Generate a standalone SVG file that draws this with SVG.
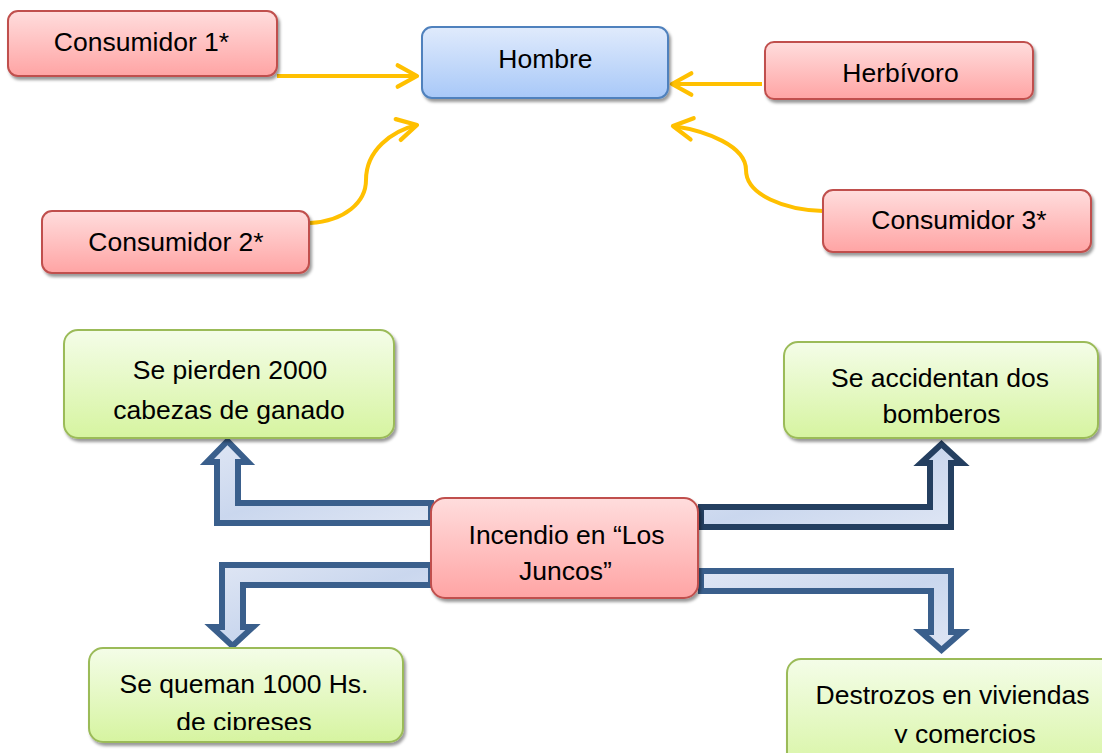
<svg xmlns="http://www.w3.org/2000/svg" width="1102" height="753" viewBox="0 0 1102 753">
<defs>
<linearGradient id="gRed" x1="0" y1="0" x2="0" y2="1"><stop offset="0" stop-color="#ffdddd"/><stop offset="1" stop-color="#ffa4a4"/></linearGradient>
<linearGradient id="gBlue" x1="0" y1="0" x2="0" y2="1"><stop offset="0" stop-color="#e0ebfc"/><stop offset="1" stop-color="#a8c8f8"/></linearGradient>
<linearGradient id="gGreen" x1="0" y1="0" x2="0" y2="1"><stop offset="0" stop-color="#f4fde8"/><stop offset="1" stop-color="#d6f4a0"/></linearGradient>
<linearGradient id="gArrow" x1="0" y1="0" x2="1" y2="1"><stop offset="0" stop-color="#dfe6f4"/><stop offset="0.5" stop-color="#cad7ee"/><stop offset="1" stop-color="#dfe6f4"/></linearGradient>
<filter id="sh" x="-10%" y="-20%" width="130%" height="150%"><feDropShadow dx="2" dy="3" stdDeviation="1.5" flood-color="#000" flood-opacity="0.4"/></filter>
<marker id="chev" markerUnits="userSpaceOnUse" markerWidth="30" markerHeight="30" refX="0" refY="0" viewBox="-22 -14 26 28" orient="auto" overflow="visible">
<path d="M-18,-10 L0,0 L-18,10" fill="none" stroke="#ffc000" stroke-width="4" stroke-linecap="round" stroke-linejoin="round"/>
</marker>
<clipPath id="clipA"><rect x="0" y="0" width="1102" height="730"/></clipPath>
<clipPath id="clipB"><rect x="0" y="0" width="1102" height="743"/></clipPath>
</defs>
<style>
text{font-family:"Liberation Sans",Arial,sans-serif;font-size:26.5px;fill:#000;text-anchor:middle}
.red{fill:url(#gRed);stroke:#c0504d;stroke-width:2;filter:url(#sh)}
.blue{fill:url(#gBlue);stroke:#4f81bd;stroke-width:2;filter:url(#sh)}
.green{fill:url(#gGreen);stroke:#9bbb59;stroke-width:2;filter:url(#sh)}
.conn{fill:none;stroke:#ffc000;stroke-width:4;marker-end:url(#chev)}
.blk{fill:url(#gArrow);stroke:#3a5f8c;stroke-width:6;stroke-linejoin:miter}
.blkd{fill:url(#gArrow);stroke:#243f60;stroke-width:6;stroke-linejoin:miter}
</style>
<rect width="1102" height="753" fill="#fff"/>

<g id="connectors">
<path class="conn" d="M277,76 L417,76"/>
<path class="conn" d="M310,223 C345,221 366,202 366,180 C366,150 392,131 417,125"/>
<path class="conn" d="M762,84 L672,84"/>
<path class="conn" d="M823,211 C785,210 746,195 746,170 C746,146 707,131 673,126"/>
<path class="blk" d="M431,503 L238,503 L238,462 L248,462 L227.5,441 L207,462 L217,462 L217,523 L431,523 Z"/>
<path class="blk" d="M431,565 L222,565 L222,627 L212,627 L232.5,646 L253,627 L243,627 L243,585 L431,585 Z"/>
<path class="blkd" d="M701,507 L930,507 L930,463 L921,463 L941.5,444 L962,463 L951,463 L951,527 L701,527 Z"/>
<path class="blk" d="M701,571 L951,571 L951,632 L962,632 L941.5,650 L921,632 L931,632 L931,591 L701,591 Z"/>
</g>

<g id="consumidor1"><rect class="red" x="8" y="11" width="269" height="65" rx="10"/><text x="141.5" y="51">Consumidor 1*</text></g>
<g id="hombre"><rect class="blue" x="422" y="27" width="246" height="71" rx="10"/><text x="545.5" y="68">Hombre</text></g>
<g id="herbivoro"><rect class="red" x="765" y="42" width="268" height="57" rx="9"/><text x="900.5" y="82">Herbívoro</text></g>
<g id="consumidor2"><rect class="red" x="42" y="211" width="267" height="62" rx="10"/><text x="176" y="251">Consumidor 2*</text></g>
<g id="consumidor3"><rect class="red" x="823" y="190" width="268" height="62" rx="10"/><text x="959" y="229">Consumidor 3*</text></g>

<g id="ganado"><rect class="green" x="64" y="330" width="330" height="108" rx="14"/><text x="230" y="379">Se pierden 2000</text><text x="229" y="419">cabezas de ganado</text></g>
<g id="bomberos"><rect class="green" x="784" y="342" width="314" height="96" rx="14"/><text x="940" y="387">Se accidentan dos</text><text x="941.5" y="423">bomberos</text></g>
<g id="incendio"><rect class="red" x="431" y="498" width="267" height="100" rx="14"/><text x="566.5" y="544">Incendio en “Los</text><text x="565.5" y="580">Juncos”</text></g>
<g id="cipreses"><rect class="green" x="89" y="648" width="314" height="94" rx="14"/><text x="244" y="693">Se queman 1000 Hs.</text><text x="244" y="731" clip-path="url(#clipA)">de cipreses</text></g>
<g id="destrozos"><rect class="green" x="787" y="659" width="340" height="120" rx="14"/><text x="952.5" y="704">Destrozos en viviendas</text><text x="965" y="743" clip-path="url(#clipB)">y comercios</text></g>
</svg>
